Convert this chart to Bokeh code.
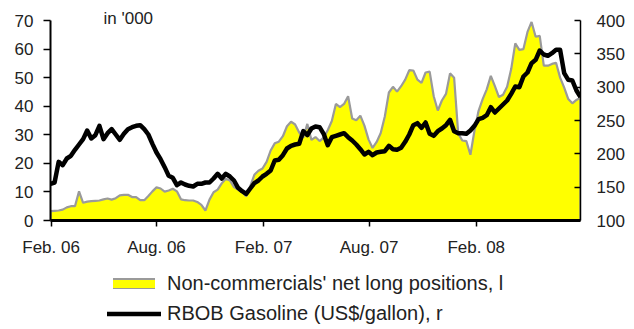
import pandas as pd
from bokeh.plotting import figure
from bokeh.layouts import column
from bokeh.models import (LinearAxis, Range1d, FixedTicker, DatetimeTickFormatter,
                          Legend, LegendItem, Label, ColumnDataSource)
from bokeh.embed import file_html
from bokeh.resources import INLINE

# Weekly observations (Tuesdays), starting 31 Jan 2006
start_date = "2006-01-31"
n_weeks = 131

# Non-commercials' net long positions, in '000 contracts (left axis)
net_long = [
    3.3, 3.4, 3.5, 3.8, 4.6, 5.0, 5.0, 10.2, 6.2, 6.6,
    6.8, 6.9, 7.0, 7.4, 7.7, 7.3, 7.8, 8.8, 9.0, 9.0,
    8.2, 8.2, 7.1, 7.1, 8.6, 10.2, 11.6, 11.2, 10.1, 10.5,
    11.1, 10.2, 7.4, 7.1, 7.0, 7.0, 6.5, 5.5, 3.5, 7.3,
    9.9, 10.8, 13.0, 14.6, 14.0, 11.7, 10.8, 9.9, 8.5, 12.0,
    16.0, 17.4, 18.2, 20.5, 24.5, 27.0, 27.6, 29.5, 33.0, 34.6,
    33.6, 30.8, 29.0, 33.8, 28.2, 29.2, 27.8, 29.0, 31.6, 34.8,
    40.8, 39.7, 40.8, 43.5, 35.7, 35.1, 36.7, 33.2, 28.4, 25.4,
    27.5, 30.6, 36.4, 44.8, 46.8, 45.1, 47.0, 49.3, 52.6, 52.5,
    49.3, 48.2, 51.8, 52.1, 43.5, 38.5, 42.0, 44.3, 51.5, 50.0,
    30.5, 28.0, 27.8, 23.0, 31.5, 38.4, 42.5, 45.9, 50.6, 47.0,
    43.2, 44.0, 46.8, 53.0, 62.0, 59.7, 60.0, 66.0, 69.5, 64.3,
    64.6, 54.2, 54.2, 54.8, 55.2, 50.0, 46.5, 42.5, 41.0, 42.2,
    43.0,
]

# RBOB gasoline price (right axis)
rbob = [
    155, 157, 188, 183, 193, 197, 206, 214, 222, 235,
    223, 228, 242, 222, 231, 237, 229, 221, 230, 237,
    240, 242, 243, 237, 229, 215, 202, 192, 180, 167,
    164, 153, 157, 154, 152, 151, 155, 155, 157, 157,
    163, 170, 163, 170, 166, 160, 149, 144, 140, 148,
    156, 160, 166, 170, 175, 190, 191, 198, 208, 212,
    214, 215, 234, 228, 238, 241, 240, 230, 213, 225,
    227, 229, 231, 225, 220, 214, 207, 199, 203, 198,
    202, 203, 204, 212, 207, 206, 209, 218, 229, 243,
    246, 239, 247, 230, 227, 234, 238, 243, 251, 234,
    231, 231, 230, 235, 242, 252, 254, 258, 270, 262,
    268, 274, 280, 290, 301, 300, 316, 322, 336, 341,
    355, 349, 347, 351, 356, 356, 321, 311, 310, 295,
    285,
]

tick_dates = ["2006-02-01", "2006-08-01", "2007-02-01", "2007-08-01", "2008-02-01"]
left_ticks = [0, 10, 20, 30, 40, 50, 60, 70]
right_ticks = [100, 150, 200, 250, 300, 350, 400]
left_bounds = (0, 70)
right_bounds = (100, 400)

label_net = "Non-commercials' net long positions, l"
label_rbob = "RBOB Gasoline (US$/gallon), r"

FONT = "Liberation Sans"
TEXT = "#222222"
YELLOW = "#FFFF00"
OUTLINE = "#9A9A9A"

dates = pd.date_range(start_date, periods=n_weeks, freq="7D")
src = ColumnDataSource(dict(date=dates, net_long=net_long, rbob=rbob))

# Closed polygon for the shaded area (values down to zero)
poly_x = list(dates) + list(dates[::-1])
poly_y = list(net_long) + [0] * n_weeks

# The frame runs to the top edge so the unit note can sit above the axes;
# the axis lines are bounded to the tick range.
top_pad = 220 / 200
p = figure(width=634, height=260, x_axis_type="datetime",
           x_range=Range1d(dates[0], dates[-1]),
           y_range=Range1d(0, left_bounds[1] * top_pad),
           output_backend="svg", toolbar_location=None,
           min_border_left=50, min_border_right=54,
           min_border_top=0, min_border_bottom=40)
p.outline_line_color = None
p.grid.visible = False

p.extra_y_ranges = {"price": Range1d(right_bounds[0],
                                     right_bounds[0] + (right_bounds[1] - right_bounds[0]) * top_pad)}

area = p.patch(poly_x, poly_y, fill_color=YELLOW, line_color=OUTLINE, line_width=2.2)
price = p.line("date", "rbob", source=src, y_range_name="price",
               line_color="black", line_width=4.5, line_join="round")

# Left axis
ya = p.yaxis[0]
ya.bounds = left_bounds
ya.ticker = FixedTicker(ticks=left_ticks)
ya.axis_line_width = 2
ya.major_tick_line_width = 1.5
ya.major_tick_out = 7
ya.major_tick_in = 0
ya.minor_tick_line_color = None
ya.major_label_standoff = 10
ya.major_label_text_font = FONT
ya.major_label_text_font_size = "17px"
ya.major_label_text_color = TEXT

# Right axis
ra = LinearAxis(y_range_name="price", ticker=FixedTicker(ticks=right_ticks),
                bounds=right_bounds)
ra.axis_line_width = 1.5
ra.major_tick_line_width = 1.5
ra.major_tick_in = 6
ra.major_tick_out = 0
ra.minor_tick_line_color = None
ra.major_label_standoff = 16
ra.major_label_text_font = FONT
ra.major_label_text_font_size = "17px"
ra.major_label_text_color = TEXT
p.add_layout(ra, "right")

# Bottom axis
xa = p.xaxis[0]
xa.ticker = FixedTicker(ticks=[pd.Timestamp(d).value // 10**6 for d in tick_dates])
xa.formatter = DatetimeTickFormatter(days="%b. %y", months="%b. %y", years="%b. %y")
xa.axis_line_width = 3
xa.major_tick_line_width = 1.5
xa.major_tick_out = 6
xa.major_tick_in = 0
xa.minor_tick_line_color = None
xa.major_label_standoff = 11
xa.major_label_text_font = FONT
xa.major_label_text_font_size = "17px"
xa.major_label_text_color = TEXT

p.add_layout(Label(x=53, y=212, x_units="screen", y_units="screen", text="in '000",
                   text_font=FONT, text_font_size="17px", text_color=TEXT,
                   text_baseline="top", text_align="left"))

# Legend strip underneath the chart; its key renderers hold a single
# undefined point so they draw nothing themselves, only the legend swatches.
# The area swatch is a thick grey stroke with a narrower yellow stroke on top,
# giving a yellow box with a grey border.
nan = float("nan")
lg = figure(width=634, height=69, x_axis_type=None, y_axis_type=None,
            x_range=Range1d(0, 1), y_range=Range1d(0, 1),
            output_backend="svg", toolbar_location=None,
            min_border=0, outline_line_color=None)
lg.grid.visible = False
key_border = lg.line([nan], [nan], line_color=OUTLINE, line_width=12, line_cap="square")
key_fill = lg.line([nan], [nan], line_color=YELLOW, line_width=8, line_cap="square")
key_line = lg.line([nan], [nan], line_color="black", line_width=4.5, line_cap="round")

legend_style = dict(orientation="vertical", glyph_height=11, label_height=20,
                    padding=0, margin=0, border_line_color=None,
                    background_fill_alpha=0, label_text_font=FONT,
                    label_text_font_size="20px", label_text_color=TEXT)

legend_area = Legend(items=[LegendItem(label=label_net, renderers=[key_border, key_fill])],
                     location=(63, 34), glyph_width=42, label_standoff=12,
                     **legend_style)
legend_line = Legend(items=[LegendItem(label=label_rbob, renderers=[key_line])],
                     location=(57, 4), glyph_width=54, label_standoff=6,
                     **legend_style)
lg.add_layout(legend_area, "center")
lg.add_layout(legend_line, "center")

layout = column(p, lg, spacing=0)
open("out.html", "w").write(file_html(layout, INLINE))
